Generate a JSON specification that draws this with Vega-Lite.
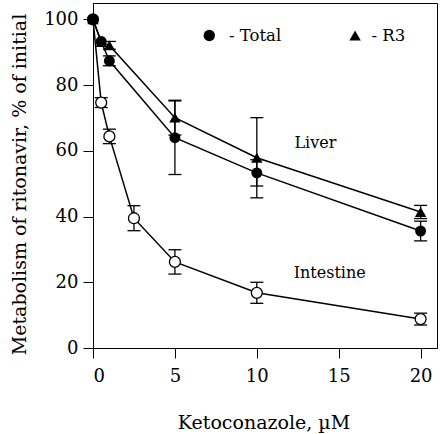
{
  "$schema": "https://vega.github.io/schema/vega-lite/v6.json",
  "width": 344,
  "height": 345,
  "autosize": "none",
  "padding": {"left": 93, "top": 3, "right": 3, "bottom": 86},
  "background": "white",
  "config": {
    "font": "DejaVu Serif",
    "view": {"stroke": "black", "strokeWidth": 1},
    "axis": {
      "grid": false,
      "domainColor": "black",
      "tickColor": "black",
      "tickSize": 10,
      "tickWidth": 1,
      "labelFont": "DejaVu Serif",
      "titleFont": "DejaVu Serif",
      "labelColor": "black",
      "labelFontSize": 18,
      "titleColor": "black",
      "titleFontSize": 19,
      "titleFontWeight": "normal"
    }
  },
  "datasets": {
    "pts": [
      {"series": "Intestine", "x": 0, "y": 100, "lo": null, "hi": null},
      {"series": "Intestine", "x": 0.5, "y": 74.7, "lo": 73.2, "hi": 76.2},
      {"series": "Intestine", "x": 1, "y": 64.4, "lo": 62.2, "hi": 66.6},
      {"series": "Intestine", "x": 2.5, "y": 39.5, "lo": 35.7, "hi": 43.3},
      {"series": "Intestine", "x": 5, "y": 26.2, "lo": 22.5, "hi": 29.9},
      {"series": "Intestine", "x": 10, "y": 16.8, "lo": 13.6, "hi": 20.0},
      {"series": "Intestine", "x": 20, "y": 8.8, "lo": 7.0, "hi": 10.6},
      {"series": "Total", "x": 0, "y": 100, "lo": null, "hi": null},
      {"series": "Total", "x": 0.5, "y": 93.3, "lo": null, "hi": null},
      {"series": "Total", "x": 1, "y": 87.4, "lo": 85.9, "hi": 88.9},
      {"series": "Total", "x": 5, "y": 64.0, "lo": 52.8, "hi": 75.2},
      {"series": "Total", "x": 10, "y": 53.3, "lo": 49.3, "hi": 57.3},
      {"series": "Total", "x": 20, "y": 35.6, "lo": 32.6, "hi": 38.6},
      {"series": "R3", "x": 0, "y": 100, "lo": null, "hi": null},
      {"series": "R3", "x": 0.5, "y": 93.1, "lo": null, "hi": null},
      {"series": "R3", "x": 1, "y": 92.1, "lo": 90.9, "hi": 93.3},
      {"series": "R3", "x": 5, "y": 70.1, "lo": 64.8, "hi": 75.4},
      {"series": "R3", "x": 10, "y": 57.9, "lo": 45.7, "hi": 70.1},
      {"series": "R3", "x": 20, "y": 41.4, "lo": 39.4, "hi": 43.4}
    ],
    "legend": [
      {"series": "Total", "x": 7.1, "y": 95.1, "tx": 8.3, "label": "- Total"},
      {"series": "R3", "x": 16.0, "y": 95.1, "tx": 17.0, "label": "- R3"}
    ],
    "notes": [
      {"x": 12.3, "y": 62.3, "label": "Liver"},
      {"x": 12.25, "y": 22.8, "label": "Intestine"}
    ]
  },
  "encoding": {
    "x": {
      "field": "x",
      "type": "quantitative",
      "scale": {"domain": [0, 21], "nice": false, "zero": false},
      "axis": {
        "values": [0, 5, 10, 15, 20],
        "title": "Ketoconazole, µM",
        "labelPadding": 9,
        "titleX": 170.5,
        "titleY": 80,
        "titleAlign": "center",
        "titleBaseline": "alphabetic"
      }
    },
    "y": {
      "field": "y",
      "type": "quantitative",
      "scale": {"domain": [0, 105], "nice": false},
      "axis": {
        "values": [0, 20, 40, 60, 80, 100],
        "title": "Metabolism of ritonavir, % of initial",
        "labelPadding": 5,
        "titleAngle": -90,
        "titleX": -68,
        "titleY": 181,
        "titleAlign": "center",
        "titleBaseline": "alphabetic"
      }
    }
  },
  "layer": [
    {
      "data": {"name": "pts"},
      "transform": [{"filter": "datum.lo != null"}],
      "mark": {"type": "rule", "color": "black", "strokeWidth": 1.3},
      "encoding": {"y": {"field": "lo", "type": "quantitative"}, "y2": {"field": "hi"}}
    },
    {
      "data": {"name": "pts"},
      "transform": [{"filter": "datum.lo != null"}],
      "mark": {"type": "tick", "orient": "horizontal", "color": "black", "size": 13, "thickness": 1.3, "opacity": 1},
      "encoding": {"y": {"field": "lo", "type": "quantitative"}}
    },
    {
      "data": {"name": "pts"},
      "transform": [{"filter": "datum.lo != null"}],
      "mark": {"type": "tick", "orient": "horizontal", "color": "black", "size": 13, "thickness": 1.3, "opacity": 1},
      "encoding": {"y": {"field": "hi", "type": "quantitative"}}
    },
    {
      "data": {"name": "pts"},
      "mark": {"type": "line", "color": "black", "strokeWidth": 1.5},
      "encoding": {"detail": {"field": "series"}, "order": {"field": "x"}}
    },
    {
      "data": {"name": "pts"},
      "transform": [{"filter": "datum.series == 'Intestine'"}],
      "mark": {"type": "point", "shape": "circle", "filled": true, "fill": "white", "stroke": "black", "strokeWidth": 1.3, "size": 120, "opacity": 1}
    },
    {
      "data": {"name": "pts"},
      "transform": [{"filter": "datum.series == 'R3'"}],
      "mark": {"type": "point", "shape": "triangle-up", "filled": true, "color": "black", "size": 130, "opacity": 1}
    },
    {
      "data": {"name": "pts"},
      "transform": [{"filter": "datum.series == 'Total'"}],
      "mark": {"type": "point", "shape": "circle", "filled": true, "color": "black", "size": 120, "opacity": 1}
    },
    {
      "data": {"name": "legend"},
      "mark": {"type": "point", "filled": true, "color": "black", "size": 130, "opacity": 1},
      "encoding": {
        "shape": {"field": "series", "type": "nominal", "scale": {"domain": ["Total", "R3"], "range": ["circle", "triangle-up"]}, "legend": null}
      }
    },
    {
      "data": {"name": "legend"},
      "mark": {"type": "text", "align": "left", "baseline": "middle", "fontSize": 16.5, "color": "black", "font": "DejaVu Serif"},
      "encoding": {"x": {"field": "tx", "type": "quantitative"}, "text": {"field": "label"}}
    },
    {
      "data": {"name": "notes"},
      "mark": {"type": "text", "align": "left", "baseline": "middle", "fontSize": 16, "color": "black", "font": "DejaVu Serif"},
      "encoding": {"text": {"field": "label"}}
    }
  ]
}
